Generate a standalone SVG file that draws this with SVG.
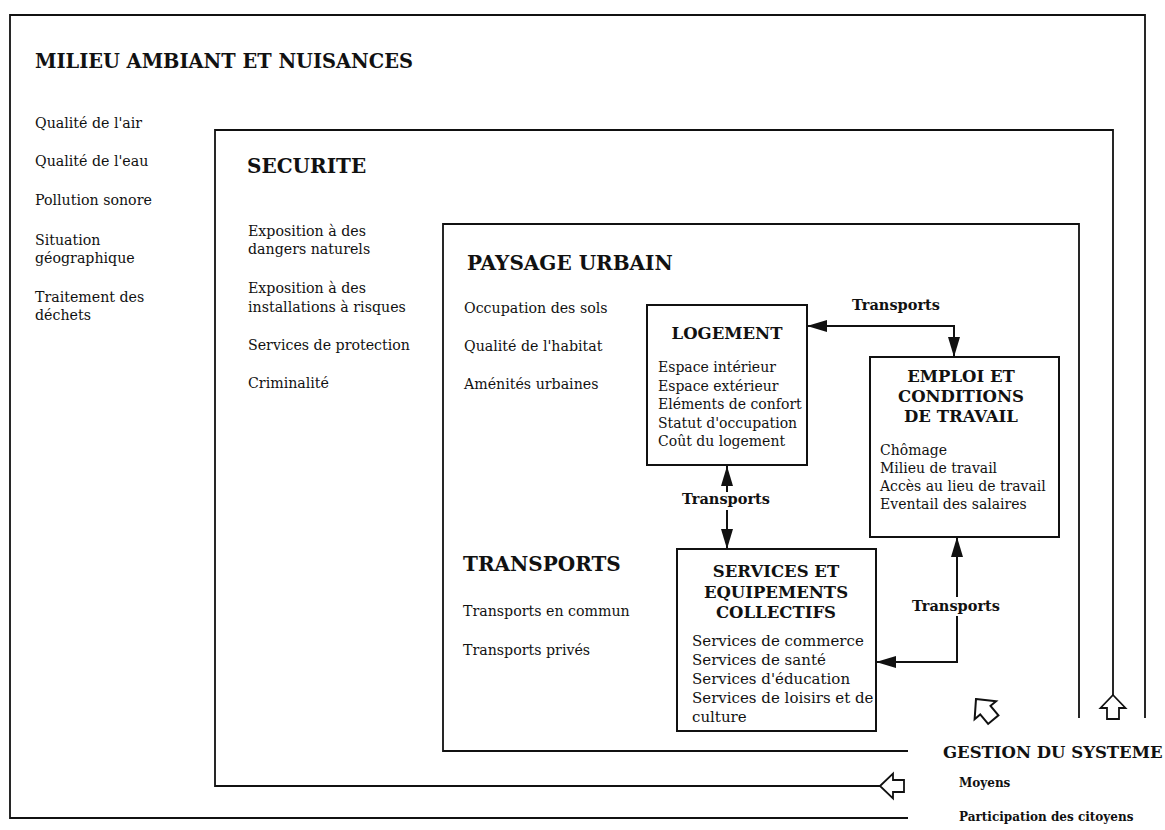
<svg xmlns="http://www.w3.org/2000/svg" xmlns:xlink="http://www.w3.org/1999/xlink" width="1165" height="830" viewBox="0 0 1165 830">
<style>
text{font-family:"DejaVu Serif","Liberation Serif",serif;fill:#111;}
.h1{font-size:20px;font-weight:bold;}
.h2{font-size:16.5px;font-weight:bold;}
.it{font-size:14.2px;}
.bi{font-size:14px;}
.bs{font-size:15px;}
.tr{font-size:14.5px;font-weight:bold;}
.sm{font-size:12px;font-weight:bold;}
.frame{fill:none;stroke:#111;stroke-width:1.8;}
.box{fill:#fff;stroke:#111;stroke-width:2;}
.conn{fill:none;stroke:#111;stroke-width:2;}
.hollow{fill:#fff;stroke:#111;stroke-width:1.8;stroke-linejoin:miter;}
</style>
<defs>
<marker id="ah" viewBox="0 0 20 12" refX="20" refY="6" markerUnits="userSpaceOnUse" markerWidth="20" markerHeight="12" orient="auto-start-reverse">
<path d="M0,0 L20,6 L0,12 Z" fill="#111"/>
</marker>
<path id="hollow" d="M0,0 L12.5,13 L6,13 L6,24 L-6,24 L-6,13 L-12.5,13 Z"/>
</defs>
<rect width="1165" height="830" fill="#fff"/>

<g id="frames">
<path id="frame-milieu" class="frame" d="M908,818 H10 V15 H1145 V718"/>
<path id="frame-securite" class="frame" d="M880,786 H215 V130 H1113 V695"/>
<path id="frame-paysage" class="frame" d="M908,751 H443 V224 H1079 V718"/>
</g>

<g id="milieu">
<text class="h1" x="35" y="68" textLength="378" lengthAdjust="spacingAndGlyphs">MILIEU AMBIANT ET NUISANCES</text>
<text class="it" x="35" y="128">Qualité de l'air</text>
<text class="it" x="35" y="166">Qualité de l'eau</text>
<text class="it" x="35" y="205">Pollution sonore</text>
<text class="it" x="35" y="245">Situation</text>
<text class="it" x="35" y="263">géographique</text>
<text class="it" x="35" y="302">Traitement des</text>
<text class="it" x="35" y="320">déchets</text>
</g>

<g id="securite">
<text class="h1" x="247" y="173">SECURITE</text>
<text class="it" x="248" y="236">Exposition à des</text>
<text class="it" x="248" y="254">dangers naturels</text>
<text class="it" x="248" y="293">Exposition à des</text>
<text class="it" x="248" y="312">installations à risques</text>
<text class="it" x="248" y="350">Services de protection</text>
<text class="it" x="248" y="388">Criminalité</text>
</g>

<g id="paysage">
<text class="h1" x="467" y="270">PAYSAGE URBAIN</text>
<text class="it" x="464" y="313">Occupation des sols</text>
<text class="it" x="464" y="351">Qualité de l'habitat</text>
<text class="it" x="464" y="389">Aménités urbaines</text>
</g>

<g id="transports">
<text class="h1" x="463" y="571">TRANSPORTS</text>
<text class="it" x="463" y="616">Transports en commun</text>
<text class="it" x="463" y="655">Transports privés</text>
</g>

<g id="logement">
<rect class="box" x="647" y="305" width="160" height="160"/>
<text class="h2" x="727" y="339" text-anchor="middle">LOGEMENT</text>
<text class="bi" x="658" y="372">Espace intérieur</text>
<text class="bi" x="658" y="390.5">Espace extérieur</text>
<text class="bi" x="658" y="409">Eléments de confort</text>
<text class="bi" x="658" y="427.5">Statut d'occupation</text>
<text class="bi" x="658" y="446">Coût du logement</text>
</g>

<g id="emploi">
<rect class="box" x="870" y="357" width="189" height="180"/>
<text class="h2" x="961" y="382" text-anchor="middle">EMPLOI ET</text>
<text class="h2" x="961" y="402" text-anchor="middle">CONDITIONS</text>
<text class="h2" x="961" y="422" text-anchor="middle">DE TRAVAIL</text>
<text class="bi" x="880" y="455">Chômage</text>
<text class="bi" x="880" y="473">Milieu de travail</text>
<text class="bi" x="880" y="491">Accès au lieu de travail</text>
<text class="bi" x="880" y="509">Eventail des salaires</text>
</g>

<g id="services">
<rect class="box" x="677" y="549" width="199" height="182"/>
<text class="h2" x="776" y="577" text-anchor="middle">SERVICES ET</text>
<text class="h2" x="776" y="598" text-anchor="middle">EQUIPEMENTS</text>
<text class="h2" x="776" y="618" text-anchor="middle">COLLECTIFS</text>
<text class="bs" x="692" y="646">Services de commerce</text>
<text class="bs" x="692" y="665">Services de santé</text>
<text class="bs" x="692" y="684">Services d'éducation</text>
<text class="bs" x="692" y="703">Services de loisirs et de</text>
<text class="bs" x="692" y="722">culture</text>
</g>

<g id="gestion">
<text class="h2" x="943" y="758">GESTION DU SYSTEME</text>
<text class="sm" x="959" y="787">Moyens</text>
<text class="sm" x="959" y="821">Participation des citoyens</text>
<use xlink:href="#hollow" class="hollow" transform="translate(1113,695)"/>
<use xlink:href="#hollow" class="hollow" transform="translate(880,786) rotate(-90)"/>
<use xlink:href="#hollow" class="hollow" transform="translate(976,699) rotate(-40) scale(1.12)"/>
</g>

<g id="connectors">
<path class="conn" d="M954,357 V326 H807" marker-start="url(#ah)" marker-end="url(#ah)"/>
<text class="tr" x="896" y="310" text-anchor="middle">Transports</text>
<path class="conn" d="M727,492 V466" marker-end="url(#ah)"/>
<path class="conn" d="M727,510 V549" marker-end="url(#ah)"/>
<text class="tr" x="726" y="504" text-anchor="middle">Transports</text>
<path class="conn" d="M957,597 V537" marker-end="url(#ah)"/>
<path class="conn" d="M957,616 V662 H876" marker-end="url(#ah)"/>
<text class="tr" x="956" y="611" text-anchor="middle">Transports</text>
</g>
</svg>
